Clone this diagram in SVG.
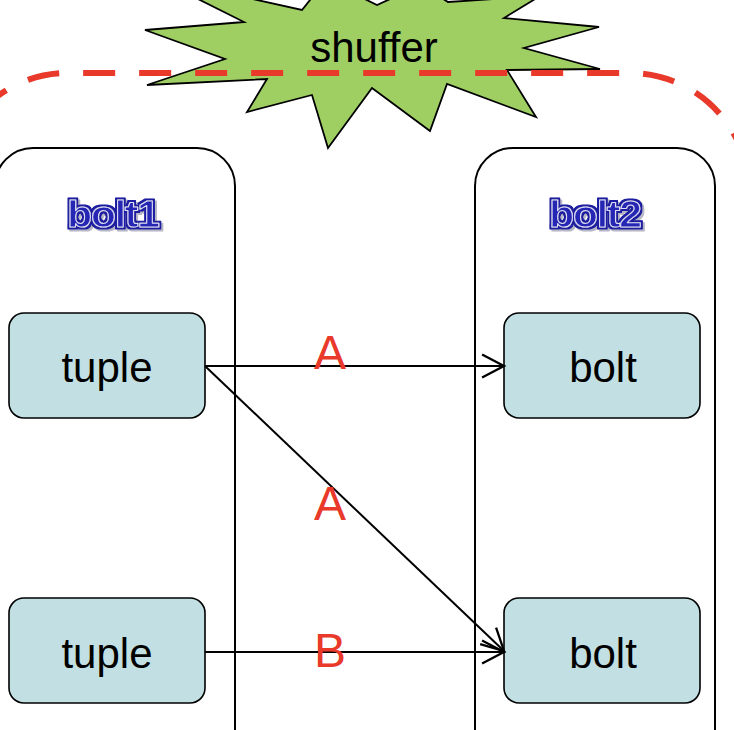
<svg xmlns="http://www.w3.org/2000/svg" width="734" height="730" viewBox="0 0 734 730">
  <style>
    .lane { fill: #ffffff; stroke: #000000; stroke-width: 2; }
    .node { fill: #c2e0e3; stroke: #000000; stroke-width: 1.6; }
    .ntext { font-family: "Liberation Sans", Arial, sans-serif; font-size: 42px; fill: #000000; text-anchor: middle; }
    .title { font-family: "Liberation Sans", Arial, sans-serif; font-weight: bold; font-size: 37px; letter-spacing: -1px; text-anchor: middle; fill: #2626b4; stroke: #dcdcf6; stroke-width: 1; stroke-linejoin: round; filter: url(#wordart); }
    .conn { fill: none; stroke: #000000; stroke-width: 2; }
    .label { font-family: "Liberation Sans", Arial, sans-serif; font-size: 48px; fill: #e8392b; text-anchor: middle; }
    .boundary { fill: none; stroke: #e8392b; stroke-width: 6; stroke-dasharray: 32 24; stroke-dashoffset: 22; }
  </style>
  <defs>
    <marker id="arrow" markerUnits="userSpaceOnUse" markerWidth="30" markerHeight="30" viewBox="-22 -13 26 26" refX="0" refY="0" orient="auto">
      <path d="M -19 -10 L 0 0 L -19 10" fill="none" stroke="#000000" stroke-width="2"/>
    </marker>
    <filter id="wordart" x="-15%" y="-30%" width="130%" height="160%">
      <feMorphology in="SourceAlpha" operator="dilate" radius="2.2" result="d"/>
      <feFlood flood-color="#1a1aa0" result="blue"/>
      <feComposite in="blue" in2="d" operator="in" result="outer"/>
      <feOffset in="d" dx="1.5" dy="2" result="sh"/>
      <feFlood flood-color="#7a7a96" flood-opacity="0.55" result="grey"/>
      <feComposite in="grey" in2="sh" operator="in" result="shadow"/>
      <feMerge>
        <feMergeNode in="shadow"/>
        <feMergeNode in="outer"/>
        <feMergeNode in="SourceGraphic"/>
      </feMerge>
    </filter>
  </defs>
  <rect x="0" y="0" width="734" height="730" fill="#ffffff"/>

  <g id="lane-bolt1">
    <rect class="lane" x="-5" y="148" width="240" height="700" rx="38" ry="38"/>
    <text class="title" transform="translate(113,227) scale(1.1,1)" x="0" y="0">bolt1</text>
  </g>

  <g id="lane-bolt2">
    <rect class="lane" x="475" y="148" width="240" height="700" rx="38" ry="38"/>
    <text class="title" transform="translate(595,227) scale(1.1,1)" x="0" y="0">bolt2</text>
  </g>

  <g id="shuffer">
    <polygon points="145,30 244,22 154,-23 302,10 326,-20 377,5 421,-15 448,2 540,-4 504,18 599,27 524,48 600,69 507,70 536,117 447,84 430,131 372,88 328,148 312,95 247,112 267,79 147,85 225,59" fill="#9fcf63" stroke="#000000" stroke-width="1.8" stroke-linejoin="miter"/>
    <text class="ntext" x="374" y="62">shuffer</text>
  </g>

  <g id="boundary">
    <path class="boundary" d="M -51 192 A 119 119 0 0 1 68 73 H 630 A 119 119 0 0 1 749 192"/>
  </g>

  <g id="node-tuple1">
    <rect class="node" x="9" y="313" width="196" height="105" rx="15" ry="15"/>
    <text class="ntext" x="107" y="382">tuple</text>
  </g>
  <g id="node-tuple2">
    <rect class="node" x="9" y="598" width="196" height="105" rx="15" ry="15"/>
    <text class="ntext" x="107" y="668">tuple</text>
  </g>
  <g id="node-bolt1">
    <rect class="node" x="504" y="313" width="196" height="105" rx="15" ry="15"/>
    <text class="ntext" x="603" y="382">bolt</text>
  </g>
  <g id="node-bolt2">
    <rect class="node" x="504" y="598" width="196" height="105" rx="15" ry="15"/>
    <text class="ntext" x="603" y="668">bolt</text>
  </g>

  <g id="connectors">
    <line class="conn" x1="205" y1="366" x2="504" y2="366" marker-end="url(#arrow)"/>
    <line class="conn" x1="205" y1="366" x2="504" y2="651" marker-end="url(#arrow)"/>
    <line class="conn" x1="205" y1="652" x2="504" y2="652" marker-end="url(#arrow)"/>
    <text class="label" x="330" y="369">A</text>
    <text class="label" x="330" y="520">A</text>
    <text class="label" x="330" y="667">B</text>
  </g>
</svg>
